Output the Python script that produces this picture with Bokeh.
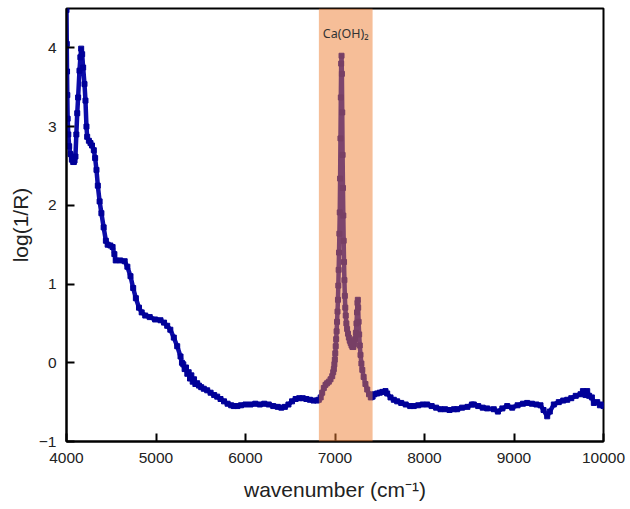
from bokeh.plotting import figure
from bokeh.models import Range1d, FixedTicker, BoxAnnotation, Label, ColumnDataSource
from bokeh.embed import file_html
from bokeh.resources import INLINE

# wavenumber (cm^-1) and log(1/R)
wavenumber = [
    4000, 4003, 4006, 4009, 4013, 4020, 4030, 4045, 4060, 4075, 4082, 4090, 4100, 4110, 4120,
    4130, 4145, 4155, 4164, 4175, 4186, 4201, 4212, 4223, 4231, 4250, 4268, 4285, 4305, 4320,
    4335, 4350, 4370, 4390, 4415, 4440, 4460, 4490, 4515, 4535, 4550, 4600, 4650, 4680, 4715,
    4745, 4775, 4810, 4840, 4880, 4930, 4990, 5050, 5090, 5125, 5160, 5199, 5237, 5274, 5290,
    5305, 5320, 5335, 5350, 5365, 5380, 5395, 5410, 5425, 5440, 5460, 5480, 5505, 5534, 5572,
    5610, 5650, 5684, 5721, 5760, 5800, 5840, 5869, 5910, 5950, 6000, 6056, 6110, 6160, 6210,
    6260, 6310, 6360, 6400, 6440, 6480, 6520, 6560, 6600, 6640, 6680, 6720, 6760, 6800, 6819,
    6840, 6857, 6875, 6894, 6912, 6931, 6950, 6969, 6980, 6987, 6993, 6998, 7003, 7008, 7013,
    7018, 7023, 7028, 7033, 7037, 7041, 7045, 7049, 7053, 7057, 7061, 7065, 7069, 7073, 7077,
    7081, 7085, 7089, 7093, 7097, 7101, 7105, 7110, 7115, 7120, 7127, 7135, 7145, 7155, 7165,
    7175, 7185, 7195, 7205, 7215, 7225, 7233, 7240, 7246, 7251, 7255, 7259, 7264, 7270, 7277,
    7285, 7295, 7305, 7320, 7340, 7360, 7380, 7400, 7420, 7440, 7471, 7500, 7530, 7564, 7583,
    7620, 7657, 7695, 7740, 7790, 7840, 7880, 7930, 7980, 8030, 8080, 8130, 8179, 8230, 8280,
    8330, 8365, 8420, 8480, 8530, 8551, 8600, 8650, 8700, 8774, 8820, 8870, 8924, 8980, 9040,
    9100, 9147, 9200, 9250, 9296, 9330, 9371, 9400, 9445, 9500, 9550, 9595, 9640, 9690, 9743,
    9770, 9800, 9818, 9840, 9870, 9892, 9930, 9960, 9986, 10000,
]
log_inv_r = [
    4.48, 4.05, 3.70, 3.40, 3.10, 2.90, 2.75, 2.65, 2.58, 2.55, 2.55, 2.57, 2.62, 2.90, 3.17,
    3.37, 3.71, 3.88, 3.99, 3.92, 3.75, 3.54, 3.33, 3.00, 2.87, 2.82, 2.79, 2.76, 2.70, 2.60,
    2.45, 2.25, 2.05, 1.90, 1.72, 1.55, 1.50, 1.49, 1.47, 1.38, 1.30, 1.30, 1.29, 1.22, 1.10,
    0.95, 0.82, 0.70, 0.64, 0.60, 0.58, 0.55, 0.54, 0.51, 0.47, 0.42, 0.32, 0.21, 0.08, 0.00,
    -0.02, -0.08, -0.06, -0.14, -0.12, -0.20, -0.16, -0.24, -0.21, -0.27, -0.26, -0.29, -0.31, -0.33, -0.35,
    -0.38, -0.41, -0.43, -0.46, -0.49, -0.52, -0.54, -0.55, -0.55, -0.54, -0.53, -0.53, -0.52, -0.53, -0.52,
    -0.53, -0.55, -0.56, -0.57, -0.56, -0.53, -0.49, -0.46, -0.45, -0.45, -0.46, -0.47, -0.48, -0.48, -0.47,
    -0.44, -0.38, -0.32, -0.28, -0.26, -0.24, -0.21, -0.17, -0.12, -0.08, -0.02, 0.04, 0.12, 0.21, 0.30,
    0.40, 0.52, 0.65, 0.80, 0.98, 1.18, 1.40, 1.64, 1.91, 2.34, 2.85, 3.37, 3.80, 3.90, 3.67,
    3.18, 2.64, 2.22, 1.87, 1.55, 1.28, 1.05, 0.85, 0.70, 0.60, 0.50, 0.43, 0.37, 0.32, 0.28,
    0.25, 0.22, 0.20, 0.20, 0.24, 0.30, 0.38, 0.50, 0.64, 0.76, 0.80, 0.70, 0.52, 0.36, 0.22,
    0.10, -0.01, -0.09, -0.18, -0.27, -0.34, -0.40, -0.44, -0.43, -0.40, -0.39, -0.38, -0.37, -0.36, -0.39,
    -0.44, -0.47, -0.49, -0.51, -0.53, -0.55, -0.55, -0.54, -0.53, -0.53, -0.55, -0.57, -0.59, -0.59, -0.60,
    -0.59, -0.59, -0.57, -0.56, -0.53, -0.53, -0.55, -0.57, -0.58, -0.59, -0.62, -0.58, -0.55, -0.57, -0.54,
    -0.52, -0.51, -0.52, -0.53, -0.54, -0.60, -0.68, -0.62, -0.53, -0.50, -0.48, -0.47, -0.45, -0.42, -0.40,
    -0.36, -0.41, -0.36, -0.42, -0.44, -0.51, -0.50, -0.54, -0.53, -0.55,
]

x_ticks = [4000, 5000, 6000, 7000, 8000, 9000, 10000]
y_ticks = [-1, 0, 1, 2, 3, 4]
band_start, band_end = 6820, 7420
band_label = "Ca(OH)₂"

source = ColumnDataSource(data=dict(x=wavenumber, y=log_inv_r))

p = figure(frame_width=537, frame_height=433, output_backend="svg", toolbar_location=None,
           x_range=Range1d(4000, 10000), y_range=Range1d(-1, 4.5),
           min_border_left=66, min_border_right=27, min_border_top=8, min_border_bottom=60,
           x_axis_label="wavenumber (cm⁻¹)", y_axis_label="log(1/R)")

p.line("x", "y", source=source, line_color="#0c0ca8", line_width=4.5)
p.scatter("x", "y", source=source, marker="square", size=5,
          fill_color="#000099", line_color="#000099")

band = BoxAnnotation(left=band_start, right=band_end, fill_color="#ED7D31",
                     fill_alpha=0.5, line_color=None)
p.add_layout(band)

p.add_layout(Label(x=(band_start + band_end) / 2, y=4.18, text=band_label,
                   text_align="center", text_baseline="middle",
                   text_font="Noto Sans", text_font_size="12.5px", text_color="#333333"))

p.xgrid.visible = False
p.ygrid.visible = False
p.outline_line_color = "black"
p.outline_line_width = 2
p.outline_line_alpha = 1

p.xaxis.ticker = FixedTicker(ticks=x_ticks)
p.yaxis.ticker = FixedTicker(ticks=y_ticks)
for ax in (p.xaxis[0], p.yaxis[0]):
    ax.axis_line_width = 2
    ax.axis_line_color = "black"
    ax.major_tick_in = 8
    ax.major_tick_out = 0
    ax.major_tick_line_width = 2
    ax.major_tick_line_color = "black"
    ax.minor_tick_in = 0
    ax.minor_tick_out = 0
    ax.major_label_text_font = "Liberation Sans"
    ax.major_label_text_font_size = "15.5px"
    ax.major_label_text_color = "#222222"
    ax.axis_label_text_font = "Liberation Sans"
    ax.axis_label_text_font_size = "21px"
    ax.axis_label_text_font_style = "normal"
    ax.axis_label_text_color = "#222222"

p.xaxis.major_label_standoff = 11
p.xaxis.axis_label_standoff = 12
p.yaxis.major_label_standoff = 10
p.yaxis.axis_label_standoff = 4

open("out.html", "w").write(file_html(p, INLINE))
